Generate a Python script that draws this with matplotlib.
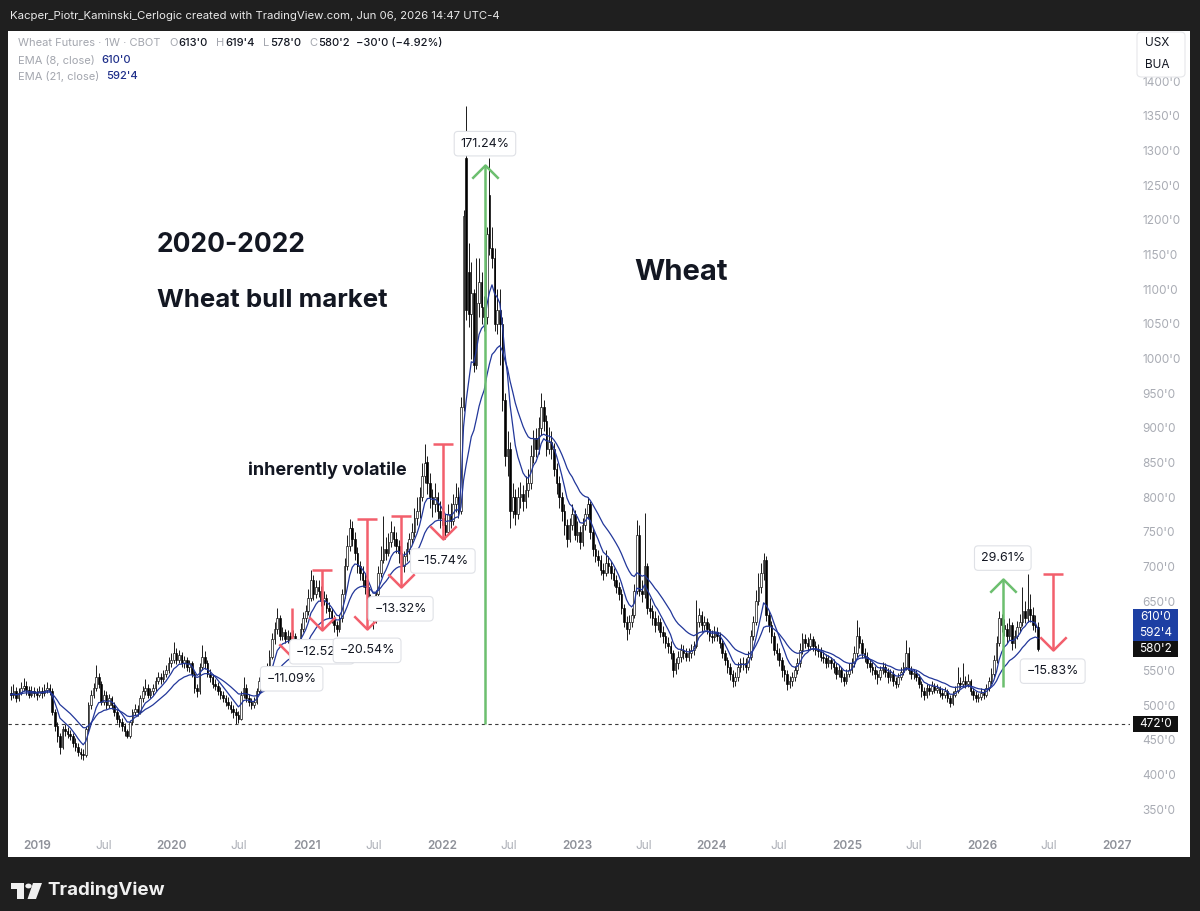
import matplotlib
matplotlib.use('Agg')
import matplotlib.pyplot as plt
import matplotlib.dates as mdates
from matplotlib.patches import Rectangle, FancyBboxPatch, Polygon, Circle
from matplotlib.path import Path
import numpy as np
import pandas as pd

plt.rcParams['font.family'] = ['Inter', 'DejaVu Sans']

# ---------------- data (weekly) ----------------
last_week = '2026-06-01'
first_open = 518
open_gaps = {176: 1290, 177: 1125, 185: 1236}

close = [
    515, 520, 510, 518, 525, 528, 522, 515, 520, 518,
    515, 520, 517, 522, 525, 520, 490, 470, 455, 440,
    465, 462, 458, 455, 445, 440, 432, 430, 428, 465,
    500, 515, 525, 540, 530, 505, 515, 500, 510, 500,
    490, 480, 475, 470, 462, 455, 475, 490, 495, 490,
    510, 520, 525, 515, 520, 525, 535, 540, 538, 545,
    550, 560, 565, 575, 565, 572, 560, 565, 555, 560,
    545, 525, 520, 555, 570, 560, 545, 540, 530, 528,
    520, 515, 510, 505, 500, 495, 490, 485, 480, 515,
    525, 510, 505, 500, 505, 520, 535, 545, 540, 555,
    570, 595, 610, 625, 600, 605, 595, 600, 590, 600,
    578, 590, 610, 625, 635, 655, 680, 660, 670, 665,
    650, 655, 640, 635, 625, 615, 610, 625, 660, 700,
    730, 755, 740, 720, 700, 690, 680, 670, 650, 640,
    625, 660, 690, 710, 725, 720, 735, 750, 740, 730,
    720, 700, 715, 725, 740, 750, 770, 780, 800, 830,
    850, 820, 800, 790, 800, 780, 770, 760, 750, 775,
    765, 790, 800, 780, 930, 1205, 1070, 1065, 1095, 990,
    1080, 1110, 1075, 1060, 1180, 1160, 1145, 1050, 1070, 1050,
    940, 860, 870, 780, 800, 775, 800, 805, 795, 810,
    820, 860, 885, 870, 900, 930, 910, 870, 880, 870,
    840, 820, 800, 780, 760, 740, 760, 775, 745, 750,
    735, 760, 775, 790, 750, 725, 715, 710, 695, 690,
    705, 700, 690, 680, 670, 660, 640, 620, 610, 620,
    630, 665, 745, 665, 660, 700, 640, 635, 625, 615,
    620, 605, 600, 590, 585, 575, 550, 560, 570, 580,
    575, 570, 575, 580, 585, 620, 630, 615, 620, 610,
    600, 598, 605, 600, 590, 575, 565, 555, 545, 535,
    540, 555, 560, 560, 555, 570, 600, 620, 650, 670,
    690, 710, 630, 615, 600, 580, 575, 565, 550, 545,
    530, 535, 540, 550, 560, 580, 595, 590, 585, 595,
    585, 580, 578, 570, 568, 560, 565, 560, 555, 545,
    550, 540, 535, 545, 550, 560, 575, 600, 590, 575,
    570, 560, 555, 550, 545, 540, 550, 555, 548, 540,
    545, 535, 530, 540, 548, 555, 575, 550, 545, 545,
    540, 530, 520, 515, 525, 520, 528, 522, 525, 518,
    515, 520, 510, 503, 515, 520, 532, 530, 535, 530,
    535, 520, 515, 510, 512, 518, 515, 525, 535, 545,
    565, 590, 625, 615, 610, 600, 615, 590, 600, 612,
    620, 635, 625, 638, 630, 615, 613, 580.25]

high = [
    528, 530, 526, 524, 533, 539, 534, 528, 527, 526,
    525, 528, 526, 530, 533, 530, 524, 495, 476, 460,
    470, 472, 468, 464, 460, 452, 445, 438, 437, 470,
    505, 522, 532, 558, 546, 534, 522, 520, 516, 513,
    505, 494, 486, 481, 474, 466, 479, 494, 502, 500,
    515, 527, 537, 530, 525, 531, 541, 547, 546, 551,
    558, 569, 575, 591, 582, 580, 576, 571, 569, 565,
    563, 549, 530, 560, 587, 578, 565, 552, 545, 537,
    533, 526, 520, 515, 511, 506, 500, 496, 492, 520,
    540, 530, 516, 510, 511, 525, 541, 555, 552, 561,
    579, 604, 620, 640, 630, 613, 610, 608, 606, 608,
    604, 596, 618, 634, 645, 667, 695, 688, 680, 680,
    672, 664, 660, 648, 640, 630, 622, 632, 668, 712,
    745, 768, 765, 750, 728, 708, 700, 690, 676, 660,
    648, 666, 700, 730, 773, 742, 748, 765, 758, 750,
    738, 725, 722, 735, 748, 762, 785, 800, 815, 850,
    877, 860, 835, 812, 820, 808, 795, 782, 775, 790,
    792, 805, 820, 815, 945, 1215, 1364, 1167, 1140, 1100,
    1145, 1145, 1125, 1090, 1190, 1289, 1190, 1160, 1100, 1100,
    1060, 950, 895, 880, 820, 812, 815, 822, 818, 830,
    840, 875, 897, 900, 915, 950, 940, 918, 901, 895,
    878, 850, 830, 808, 790, 768, 770, 790, 782, 765,
    758, 770, 785, 800, 795, 755, 732, 724, 716, 705,
    724, 715, 708, 698, 688, 678, 668, 646, 628, 630,
    640, 675, 767, 760, 680, 777, 705, 655, 645, 635,
    630, 625, 614, 606, 598, 592, 580, 568, 578, 588,
    587, 582, 582, 588, 592, 651, 640, 635, 628, 626,
    618, 608, 614, 612, 606, 595, 580, 570, 560, 550,
    548, 562, 568, 570, 568, 578, 608, 628, 666, 690,
    705, 719, 715, 636, 622, 606, 590, 582, 570, 558,
    550, 542, 548, 556, 568, 590, 604, 602, 598, 604,
    600, 592, 588, 584, 578, 574, 572, 570, 566, 560,
    558, 555, 546, 552, 560, 568, 585, 623, 612, 596,
    582, 576, 566, 562, 556, 550, 557, 562, 560, 553,
    552, 550, 540, 546, 555, 562, 594, 584, 556, 552,
    550, 545, 535, 526, 530, 530, 534, 532, 531, 528,
    524, 526, 523, 514, 520, 528, 555, 540, 560, 542,
    545, 538, 525, 520, 518, 524, 523, 531, 541, 553,
    572, 600, 635, 632, 624, 618, 625, 620, 608, 622,
    632, 670, 650, 689, 660, 642, 630, 619.5]

low = [
    508, 510, 505, 506, 514, 520, 515, 510, 511, 512,
    508, 511, 510, 513, 517, 514, 486, 462, 446, 430,
    437, 455, 452, 449, 440, 433, 426, 422, 421, 425,
    460, 495, 510, 520, 524, 500, 500, 495, 496, 494,
    484, 474, 468, 463, 456, 452, 453, 471, 485, 484,
    487, 505, 515, 510, 510, 515, 520, 530, 531, 533,
    540, 546, 555, 560, 559, 560, 555, 554, 549, 548,
    540, 518, 512, 516, 550, 552, 540, 533, 525, 521,
    514, 509, 504, 499, 494, 489, 482, 472, 474, 478,
    510, 505, 498, 494, 496, 502, 516, 530, 533, 536,
    550, 566, 588, 603, 594, 594, 589, 590, 584, 585,
    570, 574, 586, 605, 620, 630, 650, 652, 655, 656,
    643, 644, 633, 626, 618, 606, 600, 605, 620, 655,
    695, 722, 730, 710, 690, 680, 670, 660, 640, 625,
    610, 618, 655, 685, 705, 710, 715, 728, 730, 720,
    705, 672, 692, 708, 718, 733, 742, 760, 770, 795,
    820, 805, 785, 772, 778, 768, 755, 748, 740, 745,
    755, 760, 778, 770, 775, 925, 1055, 1045, 1000, 980,
    985, 1060, 1050, 1040, 1050, 1150, 1130, 1040, 1035, 990,
    925, 845, 830, 755, 770, 760, 768, 785, 780, 785,
    800, 812, 850, 858, 862, 890, 895, 860, 862, 855,
    830, 805, 785, 765, 745, 728, 735, 752, 738, 735,
    725, 730, 752, 768, 740, 715, 706, 700, 688, 680,
    686, 690, 682, 672, 662, 652, 632, 612, 594, 603,
    612, 625, 660, 658, 648, 655, 632, 625, 615, 605,
    608, 598, 590, 582, 575, 566, 540, 545, 552, 562,
    567, 563, 563, 568, 572, 582, 612, 606, 608, 602,
    593, 590, 592, 592, 583, 568, 558, 546, 536, 526,
    528, 535, 548, 550, 546, 550, 565, 594, 615, 645,
    662, 680, 622, 606, 590, 572, 565, 556, 540, 534,
    522, 524, 528, 534, 545, 555, 574, 582, 578, 580,
    578, 572, 570, 564, 560, 553, 555, 552, 546, 538,
    540, 533, 528, 530, 540, 546, 555, 570, 582, 568,
    562, 554, 548, 543, 537, 530, 536, 545, 541, 532,
    534, 527, 524, 526, 536, 544, 550, 545, 538, 538,
    534, 524, 512, 508, 510, 514, 516, 517, 517, 512,
    509, 510, 504, 497, 500, 511, 517, 524, 526, 524,
    526, 514, 508, 504, 505, 507, 509, 511, 520, 530,
    540, 560, 585, 606, 600, 590, 594, 580, 582, 595,
    606, 614, 618, 620, 620, 608, 605, 578]

legend_ohlc = ["613'0", "619'4", "578'0", "580'2"]
legend_change = "\u221230'0 (\u22124.92%)"
ema_fast_text, ema_slow_text = "610'0", "592'4"
last_close_text = "580'2"
support_level = 472.0
support_text = "472'0"

year_labels = [2019, 2020, 2021, 2022, 2023, 2024, 2025, 2026, 2027]
price_ticks = list(range(350, 1401, 50))

# price-range drawings: (date, from, to, label)
ranges = [
    ('2020-11-20', 640, 569, '\u221211.09%'),
    ('2021-02-10', 695, 608, '\u221212.52%'),
    ('2021-06-12', 768, 610, '\u221220.54%'),
    ('2021-09-11', 773, 670, '\u221213.32%'),
    ('2022-01-03', 877, 739, '\u221215.74%'),
    ('2022-04-27', 472, 1280, '171.24%'),
    ('2026-02-26', 526, 682, '29.61%'),
    ('2026-07-11', 689, 580, '\u221215.83%'),
]
range_caps = [False, True, True, True, True, False, False, True]

# ---------------- figure ----------------
W, H = 1200, 911
fig = plt.figure(figsize=(W / 100, H / 100), dpi=100)
fig.patch.set_facecolor('#1f1f1f')

def fx(px):
    return px / W

def fy(py):
    return 1 - py / H

PANEL_L, PANEL_R, PANEL_T, PANEL_B = 8, 1190, 31, 857
AX_R, AX_B = 1130, 830
fig.add_artist(Rectangle((fx(PANEL_L), fy(PANEL_B)), (PANEL_R - PANEL_L) / W,
                         (PANEL_B - PANEL_T) / H, transform=fig.transFigure,
                         facecolor='white', edgecolor='none', zorder=-10))

ax = fig.add_axes([fx(PANEL_L), fy(AX_B), (AX_R - PANEL_L) / W, (AX_B - PANEL_T) / H])
ax.set_facecolor('white')
for s in ax.spines.values():
    s.set_visible(False)

# pixel calibration of the reference: 2019 at x=37, 135 px/year; 350 at y=809, 0.693 px/unit
def px_to_date(px):
    return pd.Timestamp('2019-01-01') + pd.Timedelta(days=(px - 37) / 135 * 365.25)

def py_to_price(py):
    return 350 + (809 - py) / 0.693

ax.set_xlim(mdates.date2num(px_to_date(PANEL_L)), mdates.date2num(px_to_date(AX_R)))
ax.set_ylim(py_to_price(AX_B), py_to_price(PANEL_T))

dates = pd.date_range(end=last_week, periods=len(close), freq='W-MON')
xd = mdates.date2num(dates)
opens = [first_open] + close[:-1]
for k, v in open_gaps.items():
    opens[k] = v
o = np.array(opens, float)
c = np.array(close, float)
h = np.maximum(np.array(high, float), np.maximum(o, c))
l = np.minimum(np.array(low, float), np.minimum(o, c))
up = c >= o

ax.axhline(support_level, color='#3a3a3a', lw=0.8, ls=(0, (3, 3)), zorder=1)
ax.vlines(xd, l, h, color='#1a1a1a', lw=0.7, zorder=2)
ax.bar(xd, np.maximum(np.abs(c - o), 0.8), bottom=np.minimum(o, c), width=4.4,
       color=['white' if u else 'black' for u in up], edgecolor='black',
       linewidth=0.45, zorder=3)

s = pd.Series(close, index=dates)
ema8 = s.ewm(span=8, adjust=False).mean()
ema21 = s.ewm(span=21, adjust=False).mean()
ax.plot(xd, ema8.values, color='#22379a', lw=0.9, zorder=4)
ax.plot(xd, ema21.values, color='#22379a', lw=0.9, zorder=4)

# price range drawings
RED, GREEN = '#f25f6c', '#6cbf6f'
for (d, p0, p1, lab), cap in zip(ranges, range_caps):
    xv = mdates.date2num(pd.Timestamp(d))
    col = GREEN if p1 > p0 else RED
    ax.plot([xv, xv], [p0, p1], color=col, lw=1.8, solid_capstyle='butt', zorder=6)
    if p1 < p0:
        head = Path([(-1, 1), (0, 0), (1, 1)])
    else:
        head = Path([(-1, -1), (0, 0), (1, -1)])
    ax.plot([xv], [p1], marker=head, ms=19, mew=1.8, mec=col, mfc='none', ls='none', zorder=6)
    if cap:
        ax.plot([xv], [p0], marker='_', ms=14, mew=1.8, color=col, ls='none', zorder=6)
    off = -15.5 if p1 < p0 else 15
    ax.annotate(lab, xy=(xv, p1), xytext=(0, off), textcoords='offset points',
                ha='center', va='center', fontsize=9, color='#131722', zorder=8,
                bbox=dict(boxstyle='round,pad=0.5,rounding_size=0.3', fc='white',
                          ec='#dfe1e6', lw=0.8))

# axes ticks
xt, xl = [], []
for yv in year_labels:
    xt.append(mdates.date2num(pd.Timestamp(f'{yv}-01-01')))
    xl.append(str(yv))
    if yv != year_labels[-1]:
        xt.append(mdates.date2num(pd.Timestamp(f'{yv}-07-01')))
        xl.append('Jul')
ax.set_xticks(xt)
ax.set_xticklabels(xl)
ax.tick_params(axis='x', length=0, pad=7, labelsize=8.5)
for t in ax.get_xticklabels():
    if t.get_text() == 'Jul':
        t.set_color('#acafb7')
    else:
        t.set_color('#8e9199')
        t.set_fontweight('semibold')

def price_py(p):
    return H - ax.transData.transform((xd[0], p))[1]

py_last = price_py(c[-1])
py_sup = price_py(support_level)
# scale labels (boxes) cover the regular price labels behind them
covered = [(py_last - 40, py_last + 8), (py_sup - 8, py_sup + 8)]
shown_ticks = [v for v in price_ticks
               if not any(a - 3 < price_py(v) < b + 3 for a, b in covered)]

ax.yaxis.tick_right()
ax.set_yticks(shown_ticks)
ax.set_yticklabels([f"{v}'0" for v in shown_ticks])
ax.tick_params(axis='y', length=0, pad=9, labelsize=8.5, labelcolor='#a9acb4')

def scale_box(top, bot, color):
    fig.add_artist(Rectangle((fx(1133), fy(bot)), 45 / W, (bot - top) / H,
                             transform=fig.transFigure, facecolor=color,
                             edgecolor='none', zorder=5))

def scale_text(py, txt):
    fig.text(fx(1156), fy(py), txt, color='white', fontsize=8.5, ha='center',
             va='center', zorder=6)

scale_box(py_last - 40, py_last - 8, '#1d3fa3')
scale_text(py_last - 32, ema_fast_text)
scale_text(py_last - 16.5, ema_slow_text)
scale_box(py_last - 8, py_last + 8, '#111111')
scale_text(py_last, last_close_text)
scale_box(py_sup - 8, py_sup + 8, '#111111')
scale_text(py_sup, support_text)

# currency / unit box
fig.add_artist(FancyBboxPatch((fx(1137), fy(77)), 48 / W, 45 / H,
                              boxstyle='round,pad=0,rounding_size=0.004',
                              transform=fig.transFigure, facecolor='white',
                              edgecolor='#e6e7ea', lw=0.8, zorder=5))
fig.text(fx(1157), fy(43), 'USX', fontsize=8.5, color='#131722', ha='center', va='center', zorder=6)
fig.text(fx(1157), fy(65), 'BUA', fontsize=8.5, color='#131722', ha='center', va='center', zorder=6)

# legend
renderer = fig.canvas.get_renderer()

def seq(x, y, parts, size):
    for txt, col, wt, gap in parts:
        t = fig.text(fx(x), fy(y), txt, color=col, fontsize=size, fontweight=wt,
                     ha='left', va='center', zorder=6)
        x += t.get_window_extent(renderer=renderer).width + gap

GREY, DARK, NAVY = '#a3a6ae', '#131722', '#1f2f8a'
seq(18, 43, [('Wheat Futures \u00b7 1W \u00b7 CBOT', GREY, 'normal', 9),
             ('O', GREY, 'normal', 1), (legend_ohlc[0], DARK, 'medium', 8),
             ('H', GREY, 'normal', 1), (legend_ohlc[1], DARK, 'medium', 8),
             ('L', GREY, 'normal', 1), (legend_ohlc[2], DARK, 'medium', 8),
             ('C', GREY, 'normal', 1), (legend_ohlc[3], DARK, 'medium', 6),
             (legend_change, DARK, 'medium', 0)], 8)
seq(18, 60, [('EMA (8, close)', GREY, 'normal', 7), (ema_fast_text, NAVY, 'medium', 0)], 8)
seq(18, 76, [('EMA (21, close)', GREY, 'normal', 7), (ema_slow_text, NAVY, 'medium', 0)], 8)

# chart notes
fig.text(fx(157), fy(245), '2020-2022', fontsize=19, fontweight='bold', color=DARK, ha='left', va='center')
fig.text(fx(157), fy(300), 'Wheat bull market', fontsize=18.6, fontweight='bold', color=DARK, ha='left', va='center')
fig.text(fx(634), fy(272), 'Wheat', fontsize=21, fontweight='bold', color=DARK, ha='left', va='center')
fig.text(fx(248), fy(470), 'inherently volatile', fontsize=13, fontweight='bold', color=DARK, ha='left', va='center')

# header / footer
fig.text(fx(10), fy(16), 'Kacper_Piotr_Kaminski_Cerlogic created with TradingView.com, Jun 06, 2026 14:47 UTC-4',
         fontsize=8.2, color='#e9e9e9', ha='left', va='center')

LOGO = '#f0f0f0'
fig.add_artist(Rectangle((fx(11), fy(889)), 13 / W, 6 / H, transform=fig.transFigure, fc=LOGO, ec='none'))
fig.add_artist(Rectangle((fx(17), fy(899)), 7 / W, 16 / H, transform=fig.transFigure, fc=LOGO, ec='none'))
fig.add_artist(Circle((fx(28.5), fy(886)), 3.2 / W, transform=fig.transFigure, fc=LOGO, ec='none'))
fig.add_artist(Polygon([(fx(33), fy(883)), (fx(42), fy(883)), (fx(36), fy(899)), (fx(27.5), fy(899))],
                       closed=True, transform=fig.transFigure, fc=LOGO, ec='none'))
fig.text(fx(47), fy(890), 'TradingView', fontsize=13.5, fontweight='bold', color=LOGO, ha='left', va='center')

fig.savefig('out.png', dpi=100, facecolor=fig.get_facecolor())
